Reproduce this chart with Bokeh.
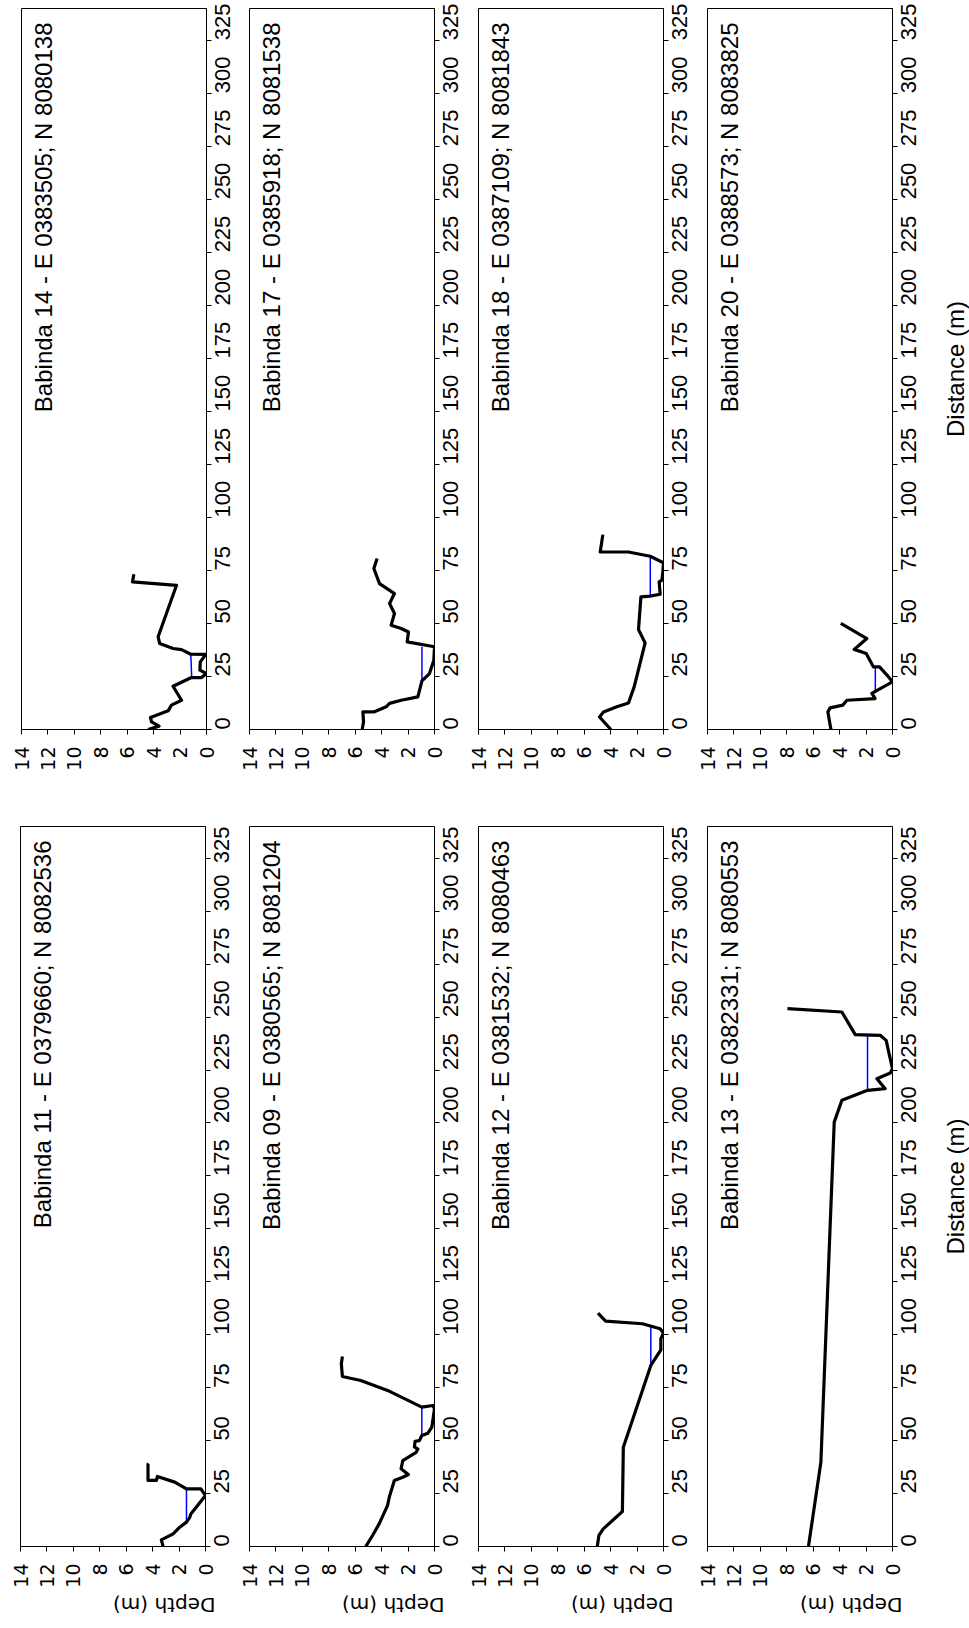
import math
from bokeh.plotting import figure
from bokeh.layouts import row, column
from bokeh.models import Range1d, FixedTicker
from bokeh.embed import file_html
from bokeh.resources import INLINE
from bokeh.core.properties import value

# ---------------- data ----------------
depth_ticks = [0, 2, 4, 6, 8, 10, 12, 14]
dist_ticks = [0, 25, 50, 75, 100, 125, 150, 175, 200, 225, 250, 275, 300, 325]

titles = [
    "Babinda 14 - E 0383505; N 8080138",
    "Babinda 17 - E 0385918; N 8081538",
    "Babinda 18 - E 0387109; N 8081843",
    "Babinda 20 - E 0388573; N 8083825",
    "Babinda 11 - E 0379660; N 8082536",
    "Babinda 09 - E 0380565; N 8081204",
    "Babinda 12 - E 0381532; N 8080463",
    "Babinda 13 - E 0382331; N 8080553",
]
x_label = "Depth (m)"
y_label = "Distance (m)"

b14_dist = [0, 1.6, 3.6, 5.7, 8.8, 11.5, 13.8, 17.7, 20.4, 24.5, 24.5, 26.4, 28, 31.9, 35.4, 35.5, 37.7, 38.2, 40.5, 43.7, 68, 69.6, 73.2]
b14_depth = [4.42, 3.59, 4.16, 4.24, 2.9, 2.65, 1.89, 2.27, 2.53, 1.14, 0.38, 0, 0.5, 0.47, 0.05, 1.19, 1.89, 2.53, 3.54, 3.66, 2.27, 5.6, 5.5]
b14_wdist = [24.5, 35.5]
b14_wdepth = [1.12, 1.19]

b17_dist = [0, 3.6, 8.3, 8.3, 10.7, 12.3, 13.8, 15.4, 22.9, 26.4, 32.7, 39, 41.3, 46, 47.6, 49.2, 54.7, 59.4, 64.1, 68.8, 75.9, 80.6]
b17_depth = [5.47, 5.37, 5.42, 4.59, 3.66, 3.4, 2.52, 1.26, 0.95, 0.38, 0.05, 0, 2.07, 1.97, 2.52, 3.28, 3.03, 3.4, 3.03, 4.16, 4.59, 4.34]
b17_wdist = [22.9, 39]
b17_wdepth = [0.95, 0.95]

b18_dist = [0, 5.9, 8.3, 10.7, 12.5, 20.1, 40.8, 47.1, 62.5, 62.9, 63.8, 69.6, 70.4, 74.3, 78.6, 81.7, 83.7, 83.7, 91.9]
b18_depth = [3.98, 4.84, 4.54, 3.53, 2.65, 2.22, 1.39, 1.89, 1.71, 1.01, 0.25, 0.33, 0.12, 0.05, 0, 1.01, 2.65, 4.79, 4.59]
b18_wdist = [62.9, 81.7]
b18_wdepth = [1.0, 1.0]

b20_dist = [0, 8.3, 10.2, 11.5, 13.8, 14.6, 17, 18.2, 22.5, 24.8, 29.5, 29.5, 35.8, 36.6, 37.7, 42.9, 50]
b20_depth = [4.66, 4.89, 4.72, 3.76, 3.45, 1.31, 1.56, 1.23, 0, 0.3, 0.98, 1.44, 1.99, 2.32, 2.9, 1.94, 3.91]
b20_wdist = [18.2, 29.5]
b20_wdepth = [1.3, 1.3]

b11_dist = [0, 3.1, 6, 9.1, 11.5, 13.8, 15.4, 24.1, 27.2, 27.2, 30.4, 33.1, 31.2, 31.2, 38.8, 39.1]
b11_depth = [3.21, 3.34, 2.45, 1.95, 1.44, 1.19, 1.11, 0, 0.35, 1.44, 2.33, 3.64, 3.71, 4.35, 4.35, 4.29]
b11_wdist = [11.5, 27.2]
b11_wdepth = [1.44, 1.44]

b09_dist = [0, 5.2, 10.7, 19.4, 23.3, 31.2, 32.7, 34, 36.7, 40.6, 44.5, 46, 47, 49.7, 50, 52.4, 53.5, 56.4, 65, 66.6, 65.8, 73.7, 78.4, 80.3, 86.3, 89.7]
b09_depth = [5.2, 4.69, 4.19, 3.55, 3.42, 3.04, 2.4, 1.98, 2.53, 2.4, 1.39, 1.26, 1.52, 1.47, 1.14, 0.96, 0.5, 0.2, 0, 0.12, 0.96, 3.55, 5.58, 6.97, 7.05, 6.97]
b09_wdist = [52.5, 65.8]
b09_wdepth = [0.96, 0.96]

b12_dist = [0, 5.2, 8.3, 16.5, 46.9, 85.5, 92.9, 98.1, 100.8, 102.8, 105.2, 106.4, 110.2]
b12_depth = [5.01, 4.89, 4.56, 3.11, 3.04, 0.96, 0.2, 0.2, 0, 0.26, 1.59, 4.38, 4.96]
b12_wdist = [85.5, 104.5]
b12_wdepth = [0.96, 0.96]

b13_dist = [0, 39.8, 200.4, 210.7, 215.4, 216.2, 220.9, 223.6, 225.6, 231.9, 239, 241.4, 241.7, 252.4, 254]
b13_depth = [6.36, 5.42, 4.41, 3.83, 1.89, 0.55, 1.18, 0.17, 0, 0.23, 0.48, 0.93, 2.82, 3.83, 7.95]
b13_wdist = [215.4, 241.6]
b13_wdepth = [1.89, 1.89]

profiles = [
    (b14_dist, b14_depth, b14_wdist, b14_wdepth),
    (b17_dist, b17_depth, b17_wdist, b17_wdepth),
    (b18_dist, b18_depth, b18_wdist, b18_wdepth),
    (b20_dist, b20_depth, b20_wdist, b20_wdepth),
    (b11_dist, b11_depth, b11_wdist, b11_wdepth),
    (b09_dist, b09_depth, b09_wdist, b09_wdepth),
    (b12_dist, b12_depth, b12_wdist, b12_wdepth),
    (b13_dist, b13_depth, b13_wdist, b13_wdepth),
]

FONT = "Liberation Sans"
WIDE = "DejaVu Sans"

ROW_GEOM = {0: (8, 97, 721), 1: (0, 82, 720)}
OVERLAP = 14  # left border of panels 2-4, overlapping the previous canvas


def make_panel(idx):
    r, c = divmod(idx, 4)
    dist, depth, wdist, wdepth = profiles[idx]
    if c == 0:
        left, right = (21, 43) if r == 0 else (20, 44)
        margin = (0, 0, 0, 0)
    else:
        left, right = OVERLAP, {1: 44, 2: 44, 3: 49}[c]
        margin = (0, 0, 0, -OVERLAP)
    top, bottom, fh = ROW_GEOM[r]
    p = figure(
        x_range=Range1d(14, 0), y_range=Range1d(0, 340),
        frame_width=185, frame_height=fh,
        min_border_left=left, min_border_right=right,
        min_border_top=top, min_border_bottom=bottom,
        margin=margin,
        x_axis_location="below", y_axis_location="right",
        toolbar_location=None, output_backend="svg",
        background_fill_color="white", border_fill_color=None,
    )
    p.outline_line_color = "black"
    p.outline_line_width = 1
    p.xgrid.visible = False
    p.ygrid.visible = False
    p.xaxis.ticker = FixedTicker(ticks=depth_ticks)
    p.yaxis.ticker = FixedTicker(ticks=dist_ticks)
    for ax in (p.xaxis[0], p.yaxis[0]):
        ax.major_label_orientation = math.pi / 2
        ax.minor_tick_line_color = None
        ax.major_tick_in = 0
        ax.major_tick_out = 5
        ax.axis_line_color = "black"
        ax.major_tick_line_color = "black"
        ax.major_label_text_color = "black"
    xa = p.xaxis[0]
    xa.major_label_standoff = 12
    xa.major_label_text_font = WIDE
    xa.major_label_text_font_size = "19px"
    ya = p.yaxis[0]
    ya.major_label_standoff = 11
    ya.major_label_text_font = FONT
    ya.major_label_text_font_size = "22px"
    if r == 1:
        xa.axis_label = x_label
        xa.axis_label_text_font = WIDE
        xa.axis_label_text_font_size = "20px"
        xa.axis_label_text_font_style = "normal"
        xa.axis_label_text_color = "black"
        xa.axis_label_standoff = 14
        xa.axis_label_orientation = math.pi

    p.line(x=wdepth, y=wdist, line_color="#0000ff", line_width=1.5)
    p.line(x=depth, y=dist, line_color="black", line_width=3.2, line_join="round")
    p.text(x=[13.38], y=[333.4], text=[titles[idx]], angle=math.pi / 2,
           text_align="right", text_baseline="top",
           text_font=value(FONT), text_font_size="24px", text_color="black")
    return p


def make_side_label(r):
    top, bottom, fh = ROW_GEOM[r]
    p = figure(
        x_range=Range1d(0, 1), y_range=Range1d(0, 1),
        frame_width=28, frame_height=fh,
        min_border_left=0, min_border_right=0,
        min_border_top=top, min_border_bottom=bottom,
        x_axis_location=None, y_axis_location=None,
        toolbar_location=None, output_backend="svg",
        background_fill_color=None, border_fill_color=None,
    )
    p.outline_line_color = None
    p.xgrid.visible = False
    p.ygrid.visible = False
    p.text(x=[0.5], y=[0.5], text=[y_label], angle=math.pi / 2,
           text_align="center", text_baseline="middle",
           text_font=value(FONT), text_font_size="24px", text_color="black")
    return p


panels = [make_panel(i) for i in range(8)]
layout = column(
    row(*panels[:4], make_side_label(0)),
    row(*panels[4:], make_side_label(1)),
)

open("out.html", "w").write(file_html(layout, INLINE))
